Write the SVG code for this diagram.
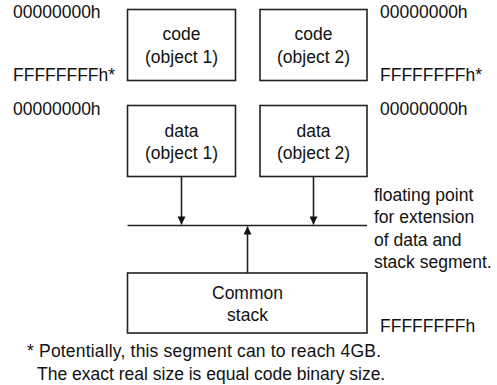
<svg xmlns="http://www.w3.org/2000/svg" width="497" height="385" viewBox="0 0 497 385">
<defs>
<style>
.box{fill:#fff;stroke:#222;stroke-width:1.6}
.ln{stroke:#222;stroke-width:1.6;fill:none}
text{font-family:"Liberation Sans",Arial,sans-serif;font-size:17.5px;fill:#111}
.c{text-anchor:middle}
</style>
<marker id="ah" viewBox="0 0 10 10" refX="10" refY="5" markerWidth="6" markerHeight="5" orient="auto" markerUnits="strokeWidth">
<path d="M0,0 L10,5 L0,10 z" fill="#111"/>
</marker>
</defs>
<rect width="497" height="385" fill="#fff"/>
<g id="labels">
<text x="13" y="18">00000000h</text>
<text x="13" y="81">FFFFFFFFh*</text>
<text x="13" y="115">00000000h</text>
<text x="380" y="18">00000000h</text>
<text x="380" y="81">FFFFFFFFh*</text>
<text x="380" y="115">00000000h</text>
<text x="374" y="201">floating point</text>
<text x="374" y="223">for extension</text>
<text x="374" y="246">of data and</text>
<text x="374" y="268">stack segment.</text>
<text x="380" y="332">FFFFFFFFh</text>
<text x="27" y="357" textLength="354" lengthAdjust="spacing">* Potentially, this segment can to reach 4GB.</text>
<text x="37" y="380">The exact real size is equal code binary size.</text>
</g>
<g id="code1">
<rect class="box" x="127.5" y="9.5" width="108" height="71"/>
<text class="c" x="181.5" y="40">code</text>
<text class="c" x="181.5" y="63">(object 1)</text>
</g>
<g id="code2">
<rect class="box" x="260" y="9.5" width="107" height="71"/>
<text class="c" x="313.5" y="40">code</text>
<text class="c" x="313.5" y="63">(object 2)</text>
</g>
<g id="data1">
<rect class="box" x="127.5" y="105.5" width="108" height="71"/>
<text class="c" x="181.5" y="137">data</text>
<text class="c" x="181.5" y="159">(object 1)</text>
</g>
<g id="data2">
<rect class="box" x="260" y="105.5" width="107" height="71"/>
<text class="c" x="313.5" y="137">data</text>
<text class="c" x="313.5" y="159">(object 2)</text>
</g>
<g id="stack">
<rect class="box" x="127.5" y="273" width="239.5" height="60"/>
<text class="c" x="247.5" y="299">Common</text>
<text class="c" x="247.5" y="321">stack</text>
</g>
<g id="connectors">
<line class="ln" x1="127.5" y1="225.5" x2="367" y2="225.5"/>
<line class="ln" x1="181.5" y1="176.5" x2="181.5" y2="224.5" marker-end="url(#ah)"/>
<line class="ln" x1="313.5" y1="176.5" x2="313.5" y2="224.5" marker-end="url(#ah)"/>
<line class="ln" x1="247.5" y1="273" x2="247.5" y2="226.5" marker-end="url(#ah)"/>
</g>
</svg>
